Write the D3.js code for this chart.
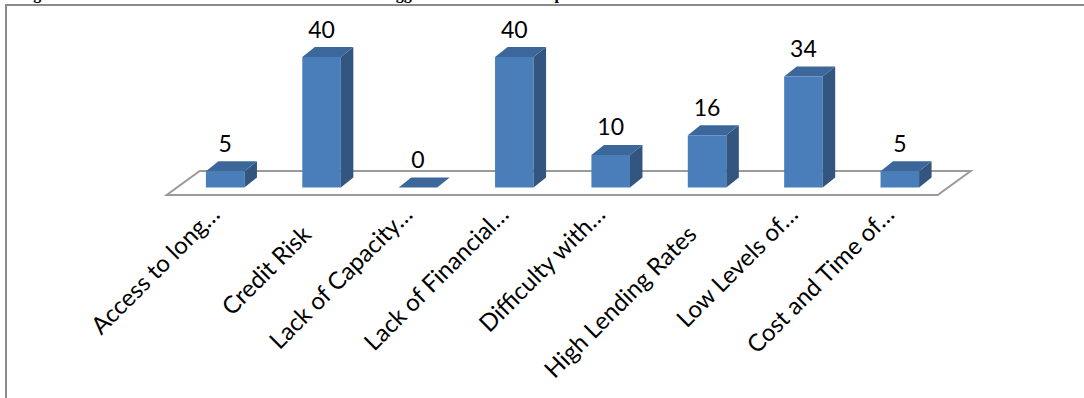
<!DOCTYPE html>
<html>
<head>
<meta charset="utf-8">
<script src="https://cdn.jsdelivr.net/npm/d3@7"></script>
<style>
  html, body { margin: 0; padding: 0; background: #fff; overflow: hidden; }
  svg { display: block; }
</style>
</head>
<body>
<svg id="chart" width="1084" height="398"></svg>
<script>
// Challenges reported by respondents (number of responses)
const categories = [
  "Access to long…",
  "Credit Risk",
  "Lack of Capacity…",
  "Lack of Financial…",
  "Difficulty with…",
  "High Lending Rates",
  "Low Levels of…",
  "Cost and Time of…"
];
const counts = [5, 40, 0, 40, 10, 16, 34, 5];
const valueDomain = [0, 40];
const captionText = "Figure 4.8: Number of Banks that Rated Each as the Biggest Hurdles for the Uptake of Credit";

const W = 1084, H = 398;
const svg = d3.select("#chart");

// 3-D projection offsets
const barDepth = { dx: 12.5, dy: -10 };
const floorSlope = 33 / 24;        // horizontal shift per pixel of depth
const floorFront = 7.5;            // floor front edge below bar base
const floorBack = 16.5;            // floor back edge above bar base

const x = d3.scaleBand()
  .domain(categories)
  .range([177, 948])
  .paddingInner(0.6)
  .paddingOuter(0.3);

const y = d3.scaleLinear()
  .domain(valueDomain)
  .range([187.5, 57]);

const colors = { front: "#4a7ebb", top: "#3c679a", side: "#32567f", floor: "#9a9a9a", frame: "#8a8a8a" };
const labelFont = "Lato, 'Open Sans', sans-serif";

// Caption line sitting above the chart frame
svg.append("text")
  .attr("x", 19)
  .attr("y", -0.7)
  .attr("font-family", "'Liberation Serif', 'Times New Roman', serif")
  .attr("font-weight", "bold")
  .attr("font-size", 16)
  .attr("fill", "#000")
  .text(captionText);

// Chart frame
svg.append("path")
  .attr("d", `M6,${H} V5 H${W}`)
  .attr("fill", "none")
  .attr("stroke", colors.frame)
  .attr("stroke-width", 2);

// Floor plane under the bars
const [r0, r1] = x.range();
const base = y(0);
const fy = base + floorFront, by = base - floorBack;
const fx0 = r0 - floorFront * floorSlope, fx1 = r1 - floorFront * floorSlope;
const bx0 = r0 + floorBack * floorSlope, bx1 = r1 + floorBack * floorSlope;
svg.append("path")
  .attr("d", `M${fx0},${fy} L${fx1},${fy} L${bx1},${by} L${bx0},${by} Z`)
  .attr("fill", "#fff")
  .attr("stroke", colors.floor)
  .attr("stroke-width", 2);

// 3-D bars: front, side and top faces
const data = categories.map((c, i) => ({ cat: c, value: counts[i] }));
const bw = x.bandwidth();
const { dx, dy } = barDepth;

const bars = svg.append("g").selectAll("g.bar").data(data).join("g").attr("class", "bar");
bars.each(function (d) {
  const g = d3.select(this);
  const x0 = x(d.cat), x1 = x0 + bw, yt = y(d.value);
  if (d.value > 0) {
    g.append("rect")
      .attr("x", x0).attr("y", yt)
      .attr("width", bw).attr("height", base - yt)
      .attr("fill", colors.front);
    g.append("path")
      .attr("d", `M${x1},${yt} L${x1 + dx},${yt + dy} L${x1 + dx},${base + dy} L${x1},${base} Z`)
      .attr("fill", colors.side);
  }
  g.append("path")
    .attr("d", `M${x0},${yt} L${x0 + dx},${yt + dy} L${x1 + dx},${yt + dy} L${x1},${yt} Z`)
    .attr("fill", colors.top);
});

// Value labels above each bar
svg.append("g").selectAll("text").data(data).join("text")
  .attr("x", d => x(d.cat) + bw / 2)
  .attr("y", d => y(d.value) - 19.5)
  .attr("text-anchor", "middle")
  .attr("font-family", labelFont)
  .attr("font-size", 23)
  .attr("fill", "#000")
  .text(d => d.value);

// Category labels, rotated 45 degrees
svg.append("g").selectAll("text").data(data).join("text")
  .attr("transform", d => {
    const cx = x(d.cat) + bw / 2;
    const truncated = d.cat.endsWith("…");
    const ax = truncated ? cx - 4 : cx - 9;
    const ay = truncated ? 216 : 236;
    return `translate(${ax},${ay}) rotate(-45)`;
  })
  .attr("text-anchor", "end")
  .attr("font-family", labelFont)
  .attr("font-size", 24)
  .attr("fill", "#000")
  .text(d => d.cat);
</script>
</body>
</html>
